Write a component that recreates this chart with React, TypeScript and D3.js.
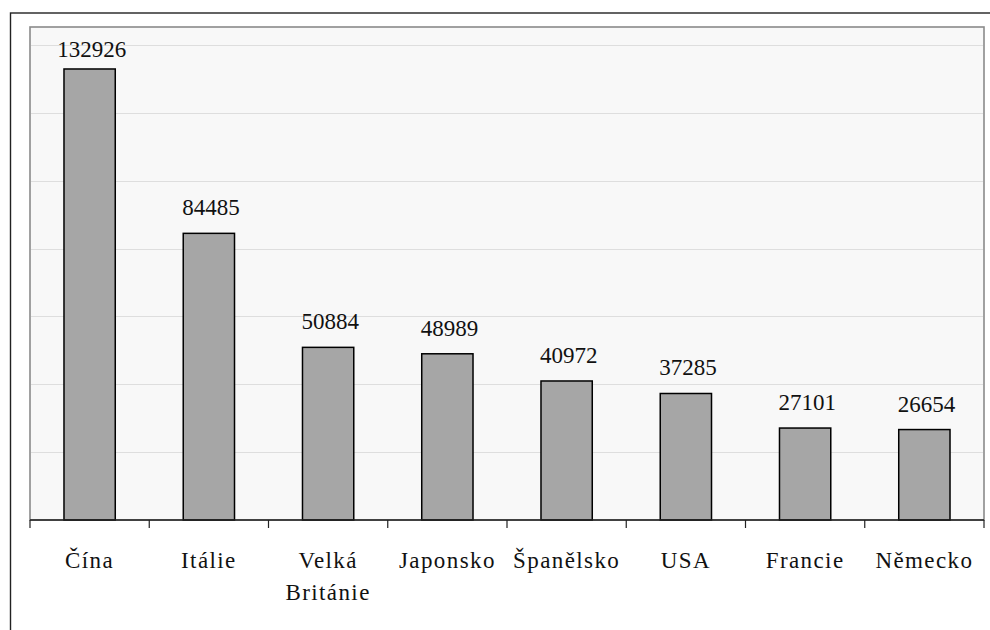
import React from "react";
import * as d3 from "d3";

// Countries and their values
const countries: string[][] = [
  ["Čína"],
  ["Itálie"],
  ["Velká", "Británie"],
  ["Japonsko"],
  ["Španělsko"],
  ["USA"],
  ["Francie"],
  ["Německo"],
];
const values: number[] = [132926, 84485, 50884, 48989, 40972, 37285, 27101, 26654];
const gridTicks: number[] = [20000, 40000, 60000, 80000, 100000, 120000, 140000];

const W = 990;
const H = 630;
const plot = { left: 30, top: 27, right: 984, bottom: 520 };
const FONT =
  '"Liberation Serif", Tinos, "Noto Serif", "DejaVu Serif", FreeSerif, "Nimbus Roman", "Times New Roman", Times, serif';

export default function App() {
  const keys = countries.map((c) => c.join(" "));
  const x = d3
    .scaleBand<string>()
    .domain(keys)
    .range([plot.left, plot.right])
    .paddingInner(0)
    .paddingOuter(0);
  const y = d3.scaleLinear().domain([0, 145300]).range([plot.bottom, plot.top]);
  const barW = x.bandwidth() * 0.43;
  const boundaries = d3.range(keys.length + 1).map((i) => plot.left + i * x.step());
  const textStyle: React.CSSProperties = { fontFamily: FONT, fontSize: 23 };

  return (
    <svg
      width={W}
      height={H}
      style={{ position: "absolute", left: 0, top: 0, background: "#fff" }}
    >
      {/* outer frame */}
      <rect x={10.5} y={13} width={1200} height={1200} fill="#fff" stroke="#222" strokeWidth={1.4} />
      {/* plot area */}
      <rect
        x={plot.left}
        y={plot.top}
        width={plot.right - plot.left}
        height={plot.bottom - plot.top}
        fill="#f8f8f8"
        stroke="#8a8a8a"
        strokeWidth={1.6}
      />
      {gridTicks.map((t) => (
        <line
          key={t}
          x1={plot.left + 1}
          x2={plot.right - 1}
          y1={Math.round(y(t)) + 0.5}
          y2={Math.round(y(t)) + 0.5}
          stroke="#dedede"
          strokeWidth={1}
        />
      ))}
      {values.map((v, i) => {
        const cx = (x(keys[i]) as number) + x.bandwidth() / 2;
        return (
          <rect
            key={keys[i]}
            x={cx - barW / 2}
            y={y(v)}
            width={barW}
            height={plot.bottom - y(v)}
            fill="#a6a6a6"
            stroke="#000"
            strokeWidth={1.5}
          />
        );
      })}
      {/* category axis */}
      <line x1={plot.left} x2={plot.right} y1={plot.bottom} y2={plot.bottom} stroke="#222" strokeWidth={1.5} />
      {boundaries.map((bx, i) => (
        <line key={i} x1={bx} x2={bx} y1={plot.bottom} y2={plot.bottom + 8} stroke="#222" strokeWidth={1.2} />
      ))}
      {values.map((v, i) => {
        const cx = (x(keys[i]) as number) + x.bandwidth() / 2;
        const ly = Math.max(y(v) - 18, plot.top + 30);
        return (
          <text key={keys[i]} x={cx + 2} y={ly} textAnchor="middle" fill="#111" style={textStyle}>
            {v}
          </text>
        );
      })}
      {countries.map((lines, i) => {
        const cx = (x(keys[i]) as number) + x.bandwidth() / 2;
        return (
          <text key={keys[i]} textAnchor="middle" fill="#111" style={{ ...textStyle, letterSpacing: 1.4 }}>
            {lines.map((ln, j) => (
              <tspan key={j} x={cx} y={568 + j * 32}>
                {ln}
              </tspan>
            ))}
          </text>
        );
      })}
    </svg>
  );
}
